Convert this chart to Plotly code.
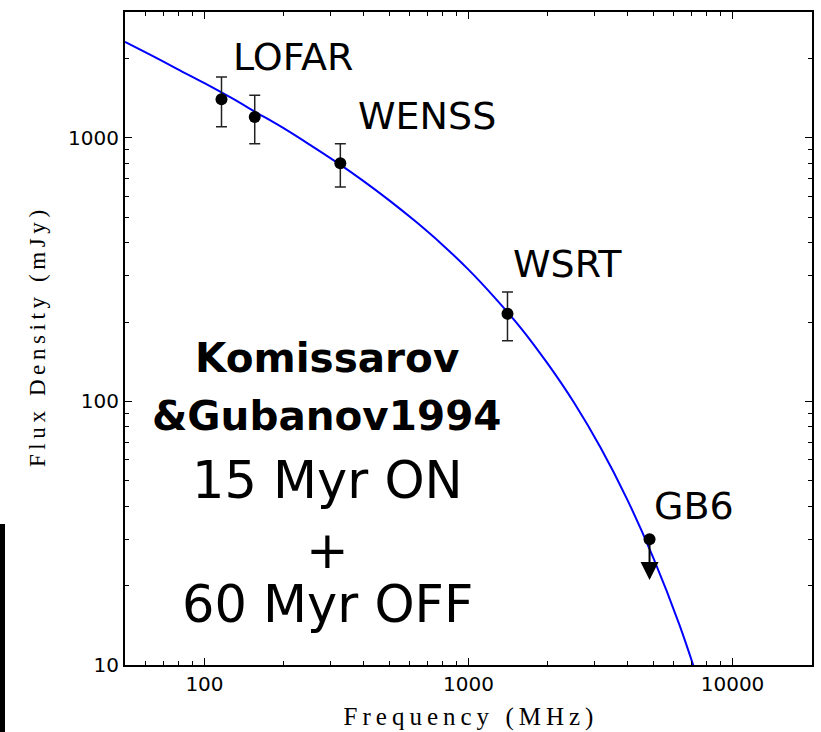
import numpy as np
import plotly.graph_objects as go

# Radio measurements (frequency in MHz, flux density in mJy)
survey = ["LOFAR", "LOFAR", "WENSS", "WSRT", "GB6"]
freq_mhz = [116, 155, 327, 1405, 4850]
flux_mjy = [1400, 1200, 800, 215, 30]
flux_err = [300, 250, 150, 45, 0]
upper_limit = [False, False, False, False, True]
limit_tip_mjy = [None, None, None, None, 21]

# Komissarov & Gubanov (1994) model spectrum, 15 Myr ON + 60 Myr OFF
model_freq = [50, 63, 79, 100, 126, 158, 200, 251, 316, 398, 501, 631, 794,
              1000, 1259, 1585, 1995, 2512, 3162, 3981, 5012, 6310, 7943]
model_flux = [2312, 2054, 1822, 1611, 1419, 1244, 1085, 940, 808, 688, 579, 481, 394,
              316, 247, 189, 139, 98.8, 66.8, 42.7, 25.5, 14.1, 7.05]

# Tick labels
x_tickvals = [100, 1000, 10000]
x_ticktext = ["100", "1000", "10000"]
y_tickvals = [10, 100, 1000]
y_ticktext = ["10", "100", "1000"]

# Survey name labels: which point each is attached to, and its pixel offset
label_for = {"LOFAR": 0, "WENSS": 2, "WSRT": 3, "GB6": 4}
label_shift = {"LOFAR": (9, 42), "WENSS": (16, 47), "WSRT": (4, 50), "GB6": (2, 33)}

TS = "\u2009"  # thin space used for the letter-spaced axis titles


def spaced(s):
    return TS.join(list(s))


def minor_vals(lo_exp, hi_exp):
    vals = []
    for e in range(lo_exp, hi_exp + 1):
        for m in range(2, 10):
            vals.append(m * 10 ** e)
    return vals


fig = go.Figure()

fig.add_trace(go.Scatter(
    x=model_freq, y=model_flux, mode="lines",
    line=dict(color="#0000ff", width=2, shape="spline", smoothing=1.0),
    hoverinfo="skip", showlegend=False,
))

det = [i for i in range(len(freq_mhz)) if not upper_limit[i]]
fig.add_trace(go.Scatter(
    x=[freq_mhz[i] for i in det], y=[flux_mjy[i] for i in det], mode="markers",
    marker=dict(color="black", size=12),
    error_y=dict(type="data", array=[flux_err[i] for i in det], visible=True,
                 color="#222222", thickness=1.5, width=5.5),
    showlegend=False,
))

lim = [i for i in range(len(freq_mhz)) if upper_limit[i]]
fig.add_trace(go.Scatter(
    x=[freq_mhz[i] for i in lim], y=[flux_mjy[i] for i in lim], mode="markers",
    marker=dict(color="black", size=12), showlegend=False,
))

annotations = []
for i in lim:
    annotations.append(dict(
        x=np.log10(freq_mhz[i]), y=np.log10(limit_tip_mjy[i]), xref="x", yref="y",
        ax=np.log10(freq_mhz[i]), ay=np.log10(flux_mjy[i]), axref="x", ayref="y",
        text="", showarrow=True, arrowhead=2, arrowsize=1.8, arrowwidth=2,
        arrowcolor="black", standoff=0, startstandoff=0,
    ))

for name, idx in label_for.items():
    dx, dy = label_shift[name]
    annotations.append(dict(
        x=np.log10(freq_mhz[idx]), y=np.log10(flux_mjy[idx]), xref="x", yref="y",
        text=name, showarrow=False, xanchor="left", yanchor="middle",
        xshift=dx, yshift=dy,
        font=dict(family="DejaVu Sans", size=38, color="black"),
    ))

# Model description block
model_lines = [
    ("<b>Komissarov</b>", 40.5, 358),
    ("<b>&Gubanov1994</b>", 40.5, 416),
    ("15 Myr ON", 51, 480),
    ("+", 51, 550),
    ("60 Myr OFF", 51, 604),
]
plot_left, plot_top, plot_w, plot_h = 125, 12, 687, 653
for text, size, ypx in model_lines:
    annotations.append(dict(
        x=(327 - plot_left) / plot_w, y=1 - (ypx - plot_top) / plot_h,
        xref="paper", yref="paper", text=text, showarrow=False,
        xanchor="center", yanchor="middle",
        font=dict(family="DejaVu Sans", size=size, color="black"),
    ))

axis_common = dict(
    type="log", showgrid=False, zeroline=False,
    showline=True, linecolor="black", linewidth=2, mirror="ticks",
    ticks="inside", ticklen=7, tickwidth=1.3, tickcolor="black",
    tickfont=dict(family="DejaVu Sans", size=20, color="black"),
)

fig.update_xaxes(
    **axis_common,
    range=[np.log10(50), np.log10(20000)],
    tickmode="array", tickvals=x_tickvals, ticktext=x_ticktext,
    minor=dict(ticks="inside", ticklen=4, tickwidth=1, tickcolor="black",
               tickmode="array", tickvals=minor_vals(1, 4), showgrid=False),
    title=dict(text=spaced("Frequency (MHz)"), standoff=12,
               font=dict(family="Liberation Serif", size=25, color="black")),
)
fig.update_yaxes(
    **axis_common,
    range=[1, np.log10(3000)],
    tickmode="array", tickvals=y_tickvals, ticktext=y_ticktext,
    minor=dict(ticks="inside", ticklen=4, tickwidth=1, tickcolor="black",
               tickmode="array", tickvals=minor_vals(1, 3), showgrid=False),
    title=dict(text=spaced("Flux Density (mJy)"), standoff=16,
               font=dict(family="Liberation Serif", size=23, color="black")),
)

fig.update_layout(
    width=821, height=732,
    margin=dict(l=125, r=9, t=12, b=67, autoexpand=False),
    paper_bgcolor="white", plot_bgcolor="white",
    annotations=annotations,
    shapes=[dict(type="rect", xref="paper", yref="paper",
                 x0=(0 - 125) / 687, x1=(5 - 125) / 687,
                 y0=(665 - 732) / 653, y1=(665 - 524) / 653,
                 fillcolor="black", line=dict(width=0), layer="above")],
)

fig.write_html("out.html")
